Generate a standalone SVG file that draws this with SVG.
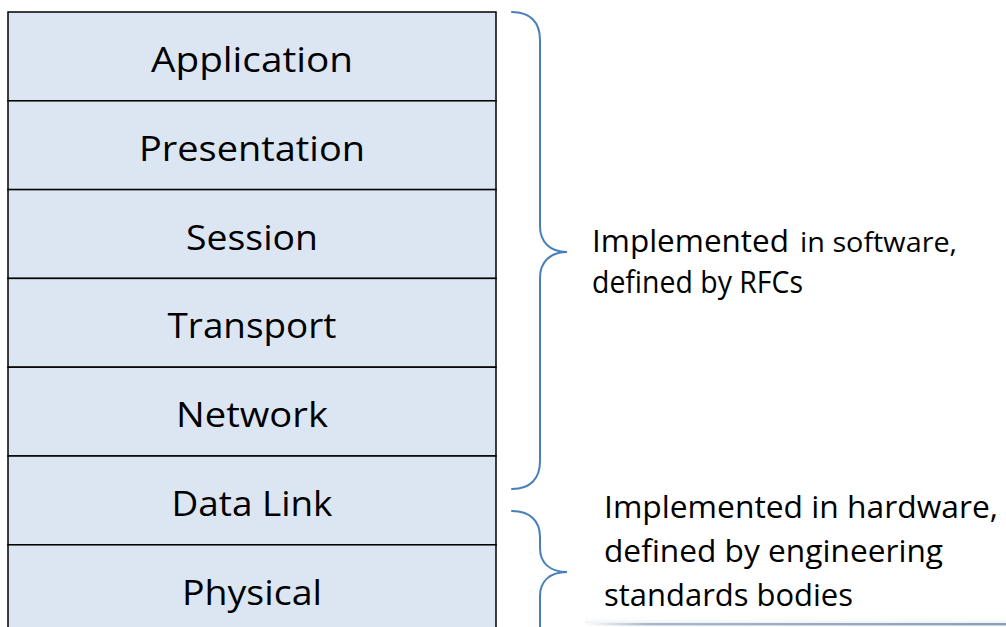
<svg xmlns="http://www.w3.org/2000/svg" width="1006" height="627" viewBox="0 0 1006 627">
  <defs>
    <style>
      .layer rect { fill: #dce6f2; stroke: #000; stroke-width: 1.5; }
      .layer text { font-family: "Open Sans", "Noto Sans", sans-serif; font-size: 34px; fill: #000; text-anchor: middle; }
      .brace { fill: none; stroke: #4a7ebb; stroke-width: 2; stroke-linecap: round; }
      .note { font-family: "Open Sans", "Noto Sans", sans-serif; font-size: 31px; fill: #000; }
    </style>
    <linearGradient id="edgeFade" x1="0" y1="0" x2="1" y2="0">
      <stop offset="0" stop-color="#3e5f8c" stop-opacity="0"/>
      <stop offset="0.15" stop-color="#3e5f8c" stop-opacity="0.45"/>
      <stop offset="1" stop-color="#3e5f8c" stop-opacity="0.6"/>
    </linearGradient>
    <linearGradient id="edgeGlow" x1="0" y1="0" x2="0" y2="1">
      <stop offset="0" stop-color="#ffffff" stop-opacity="0"/>
      <stop offset="1" stop-color="#eef2f4" stop-opacity="1"/>
    </linearGradient>
  </defs>

  <rect width="1006" height="627" fill="#fff"/>

  <!-- OSI layer stack -->
  <g id="application" class="layer">
    <rect x="8" y="12" width="488" height="88.8"/>
    <text x="252" y="72" textLength="202" lengthAdjust="spacingAndGlyphs">Application</text>
  </g>
  <g id="presentation" class="layer">
    <rect x="8" y="100.8" width="488" height="88.8"/>
    <text x="252" y="160.8" textLength="226" lengthAdjust="spacingAndGlyphs">Presentation</text>
  </g>
  <g id="session" class="layer">
    <rect x="8" y="189.6" width="488" height="88.8"/>
    <text x="252" y="249.6" textLength="132" lengthAdjust="spacingAndGlyphs">Session</text>
  </g>
  <g id="transport" class="layer">
    <rect x="8" y="278.4" width="488" height="88.8"/>
    <text x="252" y="338.4" textLength="169" lengthAdjust="spacingAndGlyphs">Transport</text>
  </g>
  <g id="network" class="layer">
    <rect x="8" y="367.2" width="488" height="88.8"/>
    <text x="252" y="427.2" textLength="152" lengthAdjust="spacingAndGlyphs">Network</text>
  </g>
  <g id="data-link" class="layer">
    <rect x="8" y="456" width="488" height="88.8"/>
    <text x="252" y="516" textLength="161" lengthAdjust="spacingAndGlyphs">Data Link</text>
  </g>
  <g id="physical" class="layer">
    <rect x="8" y="544.8" width="488" height="88.8"/>
    <text x="252" y="604.8" textLength="140" lengthAdjust="spacingAndGlyphs">Physical</text>
  </g>

  <!-- braces grouping the layers -->
  <g id="connectors">
    <path class="brace" d="M512,12 C530,12 540,22 540,40 L540,226 C540,242 550,252 567,252 C550,252 540,262 540,278 L540,461 C540,479 530,489 512,489"/>
    <path class="brace" d="M512,511 C530,511 540,521 540,537 L540,548 C540,563 550,572 567,572 C550,572 540,581 540,596 L540,640"/>
  </g>

  <!-- software note -->
  <g id="software-note">
    <text class="note" y="252"><tspan x="592" textLength="197" lengthAdjust="spacingAndGlyphs">Implemented</tspan><tspan x="800" font-size="28" textLength="157" lengthAdjust="spacingAndGlyphs">in software,</tspan></text>
    <text class="note" x="592" y="293" font-size="29" textLength="211" lengthAdjust="spacingAndGlyphs">defined by RFCs</text>
  </g>

  <!-- hardware note -->
  <g id="hardware-note">
    <text class="note" x="604" y="518" textLength="394" lengthAdjust="spacingAndGlyphs">Implemented in hardware,</text>
    <text class="note" x="604" y="562" textLength="339" lengthAdjust="spacingAndGlyphs">defined by engineering</text>
    <text class="note" x="604" y="606" textLength="249" lengthAdjust="spacingAndGlyphs">standards bodies</text>
  </g>

  <!-- slide edge strip -->
  <rect x="585" y="616" width="421" height="7" fill="url(#edgeGlow)"/>
  <rect x="585" y="623" width="421" height="2.5" fill="url(#edgeFade)"/>
</svg>
